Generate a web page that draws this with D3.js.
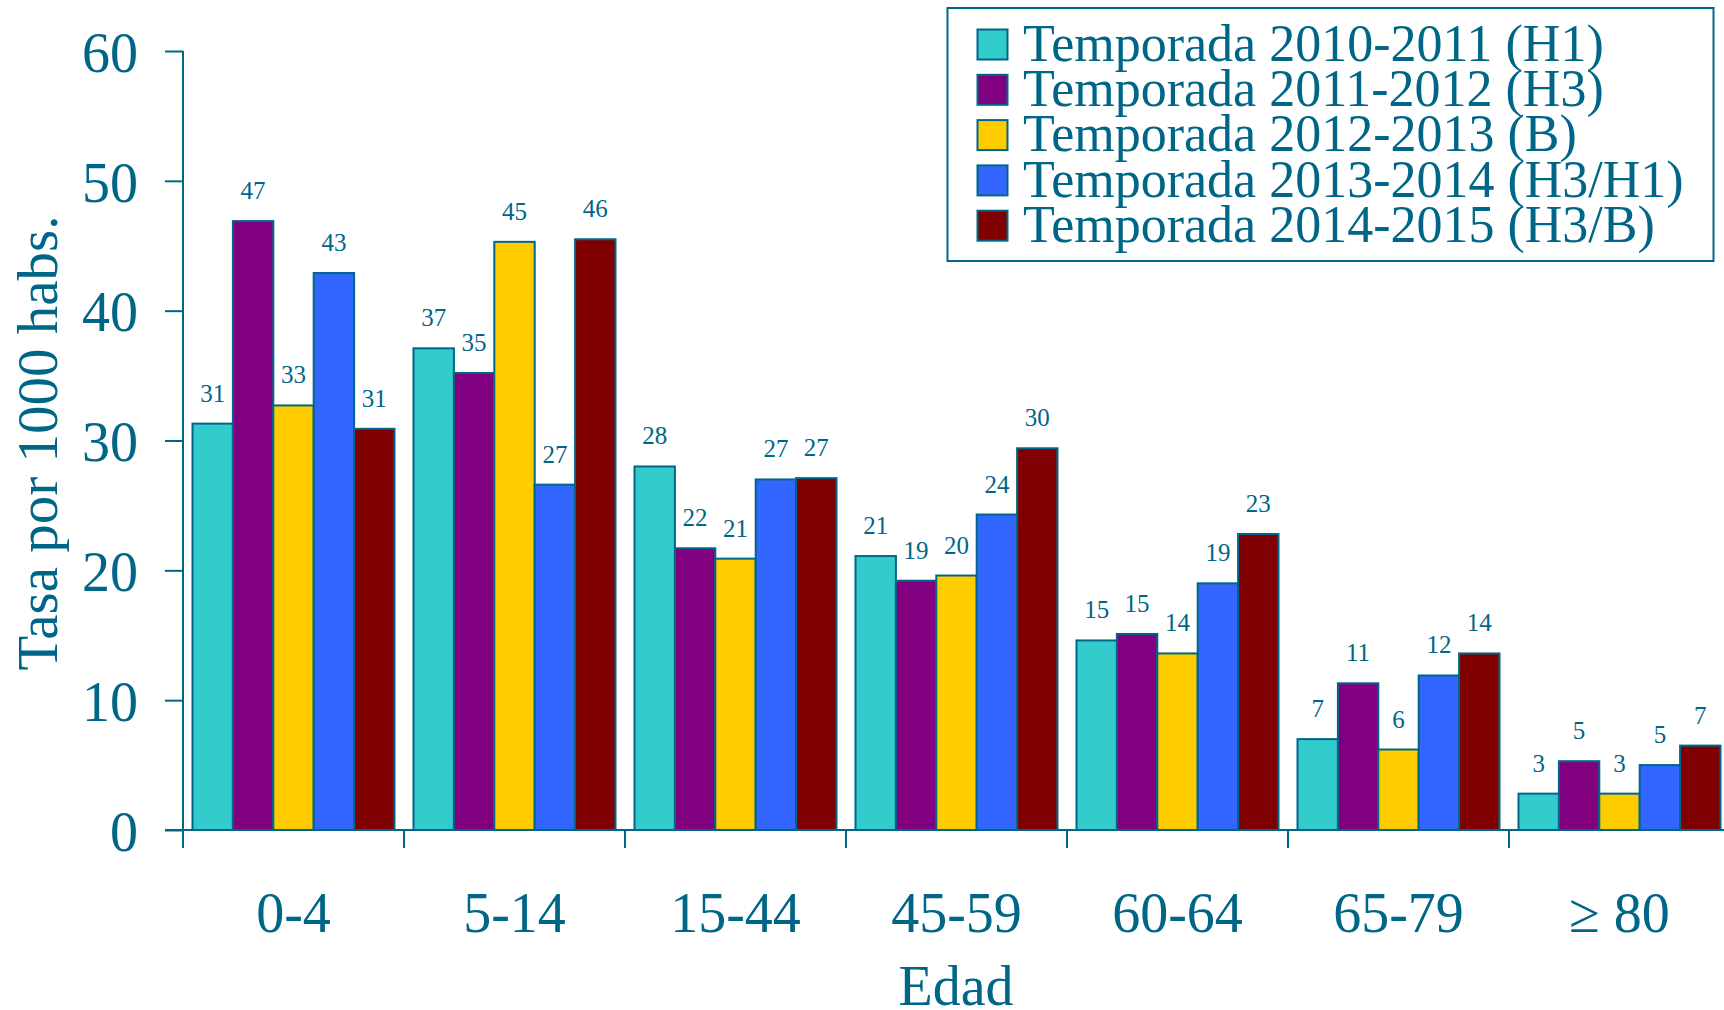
<!DOCTYPE html>
<html>
<head>
<meta charset="utf-8">
<script src="https://cdn.jsdelivr.net/npm/d3@7"></script>
<style>
  html, body { margin: 0; padding: 0; background: #ffffff; }
  svg { display: block; }
  text { font-family: "Liberation Serif", "Times New Roman", Times, serif; fill: #006688; }
</style>
</head>
<body>
<svg id="chart" width="1724" height="1010"></svg>
<script>
const categories = ["0-4", "5-14", "15-44", "45-59", "60-64", "65-79", "\u2265 80"];
const seriesNames = [
  "Temporada 2010-2011 (H1)",
  "Temporada 2011-2012 (H3)",
  "Temporada 2012-2013 (B)",
  "Temporada 2013-2014 (H3/H1)",
  "Temporada 2014-2015 (H3/B)"
];
const seriesColors = ["#33CCCC", "#800080", "#FFCC00", "#3366FF", "#800000"];

const s2010 = [31.3, 37.1, 28.0, 21.1, 14.6, 7.0, 2.8];
const s2011 = [46.9, 35.2, 21.7, 19.2, 15.1, 11.3, 5.3];
const s2012 = [32.7, 45.3, 20.9, 19.6, 13.6, 6.2, 2.8];
const s2013 = [42.9, 26.6, 27.0, 24.3, 19.0, 11.9, 5.0];
const s2014 = [30.9, 45.5, 27.1, 29.4, 22.8, 13.6, 6.5];
const seriesValues = [s2010, s2011, s2012, s2013, s2014];

const l2010 = ["31", "37", "28", "21", "15", "7", "3"];
const l2011 = ["47", "35", "22", "19", "15", "11", "5"];
const l2012 = ["33", "45", "21", "20", "14", "6", "3"];
const l2013 = ["43", "27", "27", "24", "19", "12", "5"];
const l2014 = ["31", "46", "27", "30", "23", "14", "7"];
const seriesLabels = [l2010, l2011, l2012, l2013, l2014];

const yTicks = [0, 10, 20, 30, 40, 50, 60];

const ink = "#006688";
const svg = d3.select("#chart");

const x0 = d3.scaleBand().domain(categories).range([183, 183 + 7 * 221]).paddingInner(0).paddingOuter(0);
const x1 = d3.scaleBand().domain(d3.range(seriesNames.length)).range([9.5, 211.5]);
const y = d3.scaleLinear().domain([0, 60]).range([830, 51]);

// bars
const groups = svg.append("g").selectAll("g")
  .data(categories)
  .join("g")
  .attr("transform", d => `translate(${x0(d)},0)`);

groups.selectAll("rect")
  .data((c, ci) => seriesValues.map((vals, si) => ({si, v: vals[ci], label: seriesLabels[si][ci]})))
  .join("rect")
  .attr("x", d => x1(d.si))
  .attr("width", x1.bandwidth())
  .attr("y", d => y(d.v))
  .attr("height", d => y(0) - y(d.v))
  .attr("fill", d => seriesColors[d.si])
  .attr("stroke", ink)
  .attr("stroke-width", 2);

groups.selectAll("text.val")
  .data((c, ci) => seriesValues.map((vals, si) => ({si, v: vals[ci], label: seriesLabels[si][ci]})))
  .join("text")
  .attr("class", "val")
  .attr("x", d => x1(d.si) + x1.bandwidth() / 2)
  .attr("y", d => y(d.v) - 22)
  .attr("text-anchor", "middle")
  .attr("font-size", 25)
  .text(d => d.label);

// y axis
const yAxis = d3.axisLeft(y).tickValues(yTicks).tickSize(18).tickPadding(27).tickFormat(d3.format("d"));
const yg = svg.append("g").attr("transform", "translate(183,0)").call(yAxis);
yg.select(".domain").remove();
yg.selectAll(".tick line").attr("stroke", ink).attr("stroke-width", 2);
yg.selectAll(".tick text").attr("font-size", 56).attr("dy", "0.36em")
  .style("font-family", "'Liberation Serif', 'Times New Roman', serif").attr("fill", ink);
svg.append("line").attr("x1", 183).attr("x2", 183).attr("y1", y(60)).attr("y2", 848)
  .attr("stroke", ink).attr("stroke-width", 2);

// x axis
svg.append("line").attr("x1", 165).attr("x2", 1724).attr("y1", y(0)).attr("y2", y(0))
  .attr("stroke", ink).attr("stroke-width", 2);
const xg = svg.append("g");
xg.selectAll("line").data(categories).join("line")
  .attr("x1", d => x0(d)).attr("x2", d => x0(d))
  .attr("y1", y(0)).attr("y2", 848)
  .attr("stroke", ink).attr("stroke-width", 2);
xg.selectAll("text").data(categories).join("text")
  .attr("x", d => x0(d) + x0.bandwidth() / 2)
  .attr("y", 932)
  .attr("text-anchor", "middle")
  .attr("font-size", 56)
  .text(d => d);

// axis titles
svg.append("text")
  .attr("transform", "translate(57,443) rotate(-90)")
  .attr("text-anchor", "middle")
  .attr("font-size", 57)
  .text("Tasa por 1000 habs.");
svg.append("text")
  .attr("x", 956).attr("y", 1005)
  .attr("text-anchor", "middle")
  .attr("font-size", 56)
  .text("Edad");

// legend
const lg = svg.append("g");
lg.append("rect").attr("x", 947.5).attr("y", 8).attr("width", 766).attr("height", 253)
  .attr("fill", "#ffffff").attr("stroke", ink).attr("stroke-width", 2);
const items = lg.selectAll("g.item").data(seriesNames).join("g").attr("class", "item")
  .attr("transform", (d, i) => `translate(0,${i * 45.3})`);
items.append("rect").attr("x", 977.5).attr("y", 29.5).attr("width", 30).attr("height", 30)
  .attr("fill", (d, i) => seriesColors[i]).attr("stroke", ink).attr("stroke-width", 2);
items.append("text").attr("x", 1023).attr("y", 60.7).attr("font-size", 52).text(d => d);
</script>
</body>
</html>
